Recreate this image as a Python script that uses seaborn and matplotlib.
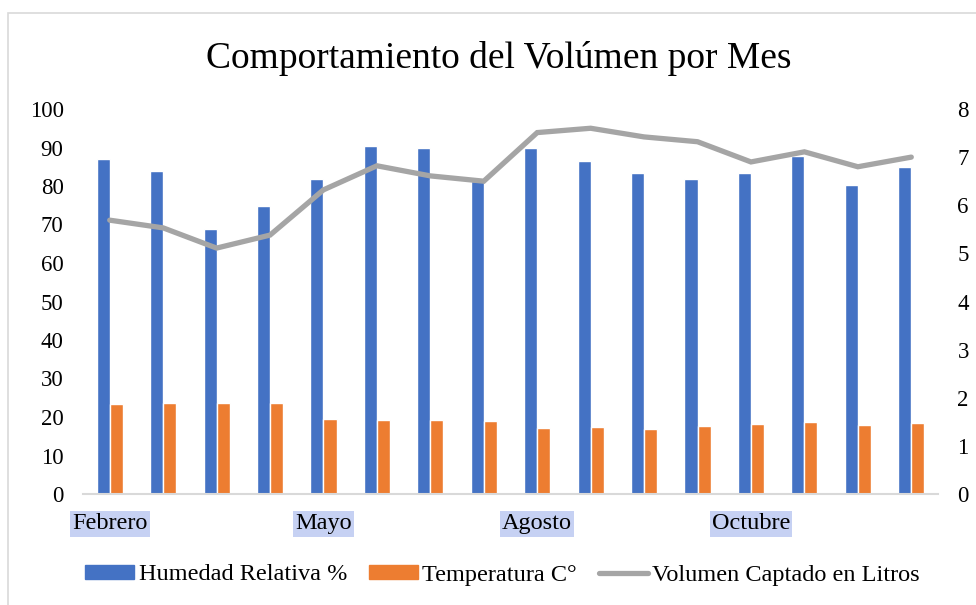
import matplotlib
matplotlib.use('Agg')
import matplotlib.pyplot as plt
import matplotlib.patches as mpatches
from matplotlib.lines import Line2D
import numpy as np
import pandas as pd
import seaborn as sns

# datos (16 registros)
tick_labels = ["Febrero", "", "", "", "Mayo", "", "", "", "Agosto", "", "", "",
               "Octubre", "", "", ""]
humedad = [86.9, 83.9, 68.8, 74.9, 81.9, 90.5, 89.8, 81.3,
           89.8, 86.4, 83.5, 81.9, 83.4, 87.8, 80.3, 84.9]
temperatura = [23.3, 23.6, 23.6, 23.6, 19.6, 19.3, 19.3, 18.9,
               17.1, 17.3, 16.8, 17.6, 18.1, 18.6, 17.8, 18.4]
volumen = [5.69, 5.53, 5.11, 5.38, 6.32, 6.82, 6.61, 6.50,
           7.51, 7.60, 7.42, 7.32, 6.90, 7.11, 6.80, 7.00]

AZUL = '#4472c4'
NARANJA = '#ed7d31'
GRIS = '#a5a5a5'

sns.set_style('white')
plt.rcParams['font.family'] = ['Liberation Serif', 'DejaVu Serif']
plt.rcParams['text.color'] = 'black'

n = len(humedad)
df = pd.DataFrame({
    'idx': list(range(n)) * 2,
    'valor': humedad + temperatura,
    'serie': ['Humedad Relativa %'] * n + ['Temperatura C°'] * n,
})

fig = plt.figure(figsize=(9.76, 6.05), dpi=100)
ax = fig.add_axes([83 / 976, 1 - 494 / 605, 855 / 976, 385 / 605])

sns.barplot(data=df, x='idx', y='valor', hue='serie', palette=[AZUL, NARANJA],
            width=0.49, ax=ax, legend=False, saturation=1)
ax.set_ylim(0, 100)
ax.set_yticks(range(0, 101, 10))
ax.set_xlim(-0.5, n - 0.5)
ax.set_xlabel('')
ax.set_ylabel('')

ax2 = ax.twinx()
sns.lineplot(x=np.arange(n), y=volumen, color=GRIS, linewidth=3.8, ax=ax2,
             solid_capstyle='round', solid_joinstyle='miter')
ax2.set_ylim(0, 8)
ax2.set_yticks(range(0, 9))
ax2.set_xlim(-0.5, n - 0.5)

for a in (ax, ax2):
    for s in a.spines.values():
        s.set_visible(False)
    a.tick_params(length=0, labelsize=16.5, colors='black')
ax.spines['bottom'].set_visible(True)
ax.spines['bottom'].set_color('#d9d9d9')
ax.spines['bottom'].set_linewidth(1.5)
ax.tick_params(axis='y', pad=14)
ax2.tick_params(axis='y', pad=14)

ax.set_xticks(range(n))
ax.set_xticklabels(tick_labels)
ax.tick_params(axis='x', pad=14, labelsize=17.5)
for t in ax.get_xticklabels():
    if t.get_text():
        t.set_bbox(dict(facecolor='#c6d1f3', edgecolor='none', pad=1.5))

fig.text(0.511, 1 - 58 / 605, 'Comportamiento del Volúmen por Mes',
         ha='center', va='center', fontsize=27, color='black')

handles = [mpatches.Patch(color=AZUL, label='Humedad Relativa %'),
           mpatches.Patch(color=NARANJA, label='Temperatura C°'),
           Line2D([0], [0], color=GRIS, lw=3.8, label='Volumen Captado en Litros')]
fig.legend(handles=handles, loc='center', bbox_to_anchor=(0.515, 1 - 575 / 605),
           ncol=3, frameon=False, fontsize=17.5, handlelength=2.0,
           handleheight=0.5, handletextpad=0.2, columnspacing=0.9)

# marco exterior del grafico
fig.patches.append(mpatches.Rectangle((8 / 976, -0.1), 1.1, 1.1 - 13 / 605,
                                      transform=fig.transFigure, fill=False,
                                      edgecolor='#d9d9d9', linewidth=1.2))

fig.savefig('out.png', dpi=100)
